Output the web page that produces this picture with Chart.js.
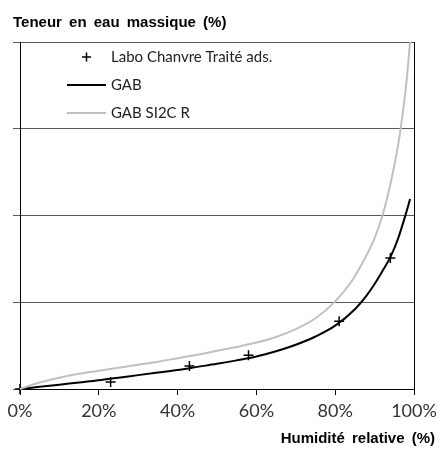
<!DOCTYPE html>
<html>
<head>
<meta charset="utf-8">
<script src="https://cdn.jsdelivr.net/npm/chart.js@4/dist/chart.umd.min.js"></script>
<style>
  html, body { margin: 0; padding: 0; background: #fff; }
  canvas { display: block; }
</style>
</head>
<body>
<canvas id="myChart" width="439" height="450"></canvas>
<script>
// Measured points (relative humidity %, water content %)
const laboRH = [0, 23, 43, 58, 81, 94];
const laboW = [0, 0.8, 2.65, 3.9, 7.8, 15.1];

// GAB fit (black)
const gabRH = [0, 5, 10, 15, 20, 25, 30, 35, 40, 45, 50, 55, 60, 65, 70, 75, 80, 85, 88, 90, 92, 94, 96, 98, 99];
const gabW = [0, 0.25, 0.5, 0.75, 1.0, 1.3, 1.6, 1.9, 2.2, 2.55, 2.9, 3.3, 3.75, 4.35, 5.1, 6.05, 7.3, 9.2, 10.8, 12.1, 13.6, 15.2, 17.4, 20.3, 21.9];

// GAB SI2C R (grey)
const si2cRH = [0, 2.5, 5, 10, 15, 20, 25, 30, 35, 40, 45, 50, 55, 60, 65, 70, 75, 80, 84, 87, 90, 92, 94, 96, 97, 98, 99];
const si2cW = [0, 0.4, 0.75, 1.3, 1.75, 2.1, 2.45, 2.8, 3.15, 3.55, 3.95, 4.4, 4.85, 5.35, 6.0, 6.9, 8.15, 10.1, 12.3, 14.6, 17.4, 20.0, 23.6, 28.2, 31.3, 35.0, 40];

// Axis ticks
const xTicks = [0, 20, 40, 60, 80, 100];
const yTicks = [0, 10, 20, 30, 40];

const legendLabels = ['Labo Chanvre Traité ads.', 'GAB', 'GAB SI2C R'];

function pairs(xs, ys) {
  return xs.map((x, i) => ({ x: x, y: ys[i] }));
}

// Titles + legend drawn inside the canvas
const decor = {
  id: 'decor',
  afterDraw(chart) {
    const c = chart.ctx;
    c.save();
    c.fillStyle = '#000';
    c.font = 'bold 15px "Liberation Sans", Arial, sans-serif';
    c.wordSpacing = '3px';
    c.textBaseline = 'alphabetic';
    c.textAlign = 'left';
    c.fillText('Teneur en eau massique (%)', 13, 27);
    c.textAlign = 'right';
    c.fillText('Humidité relative (%)', 435, 443);
    c.wordSpacing = '0px';

    // legend
    c.font = '15px Lato, "Open Sans", sans-serif';
    c.textAlign = 'left';
    c.textBaseline = 'middle';
    c.fillStyle = '#222';
    // cross marker
    c.strokeStyle = '#000';
    c.lineWidth = 1.5;
    c.beginPath();
    c.moveTo(82, 57); c.lineTo(91, 57);
    c.moveTo(86.5, 52.5); c.lineTo(86.5, 61.5);
    c.stroke();
    c.fillText(legendLabels[0], 111, 57);
    c.lineWidth = 2;
    c.beginPath(); c.moveTo(67, 85); c.lineTo(106, 85); c.stroke();
    c.fillText(legendLabels[1], 111, 85);
    c.strokeStyle = '#c0c0c0';
    c.beginPath(); c.moveTo(67, 113); c.lineTo(106, 113); c.stroke();
    c.fillText(legendLabels[2], 111, 113);
    c.restore();
  }
};

const ctx = document.getElementById('myChart').getContext('2d');

const myChart = new Chart(ctx, {
  type: 'scatter',
  data: {
    datasets: [
      {
        label: legendLabels[2],
        data: pairs(si2cRH, si2cW),
        showLine: true,
        borderColor: '#c0c0c0',
        borderWidth: 2,
        pointRadius: 0,
        cubicInterpolationMode: 'monotone'
      },
      {
        label: legendLabels[1],
        data: pairs(gabRH, gabW),
        showLine: true,
        borderColor: '#000',
        borderWidth: 2,
        pointRadius: 0,
        cubicInterpolationMode: 'monotone'
      },
      {
        label: legendLabels[0],
        data: pairs(laboRH, laboW),
        showLine: false,
        pointStyle: 'cross',
        pointRadius: 5,
        borderColor: '#000',
        borderWidth: 1.5
      }
    ]
  },
  options: {
    responsive: false,
    animation: false,
    clip: false,
    layout: { padding: { left: 13, top: 42, right: 25, bottom: 0 } },
    plugins: {
      legend: { display: false },
      tooltip: { enabled: false }
    },
    scales: {
      x: {
        type: 'linear',
        min: 0,
        max: 100,
        afterBuildTicks: (scale) => { scale.ticks = xTicks.map(v => ({ value: v })); },
        afterFit: (scale) => {
          scale.height = 61;
          scale.paddingLeft = 0;
          scale.paddingRight = 0;
        },
        ticks: {
          callback: (v) => v + '%',
          color: '#333',
          padding: 5,
          maxRotation: 0,
          font: { family: 'Lato, "Open Sans", sans-serif', size: 18 }
        },
        grid: {
          color: (c) => (c.tick && c.tick.value === 100 ? '#000' : 'rgba(0,0,0,0)'),
          tickColor: '#000',
          tickLength: 6,
          lineWidth: 1
        },
        border: { color: '#000', width: 1 }
      },
      y: {
        min: 0,
        max: 40,
        afterBuildTicks: (scale) => { scale.ticks = yTicks.map(v => ({ value: v })); },
        afterFit: (scale) => { scale.width = 7; },
        ticks: { display: false },
        grid: {
          color: '#595959',
          tickColor: '#595959',
          tickLength: 7,
          lineWidth: 1
        },
        border: { color: '#000', width: 1 }
      }
    }
  },
  plugins: [decor]
});
</script>
</body>
</html>
